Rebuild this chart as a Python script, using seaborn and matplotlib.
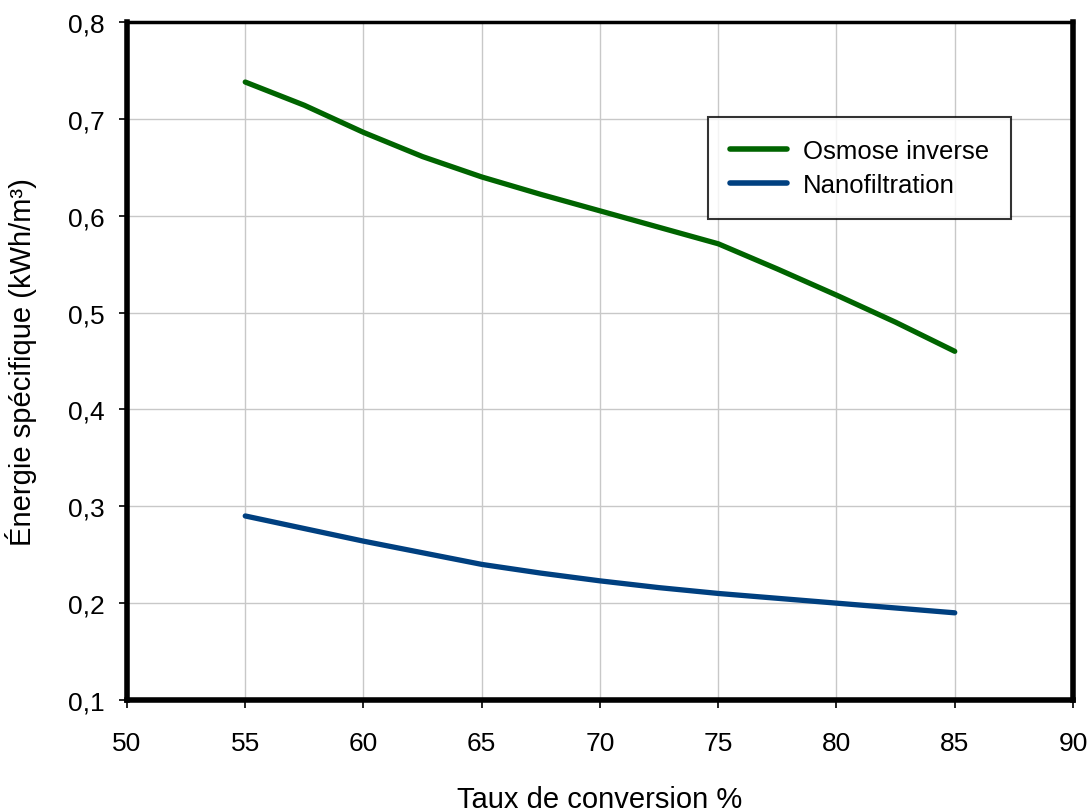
import matplotlib
matplotlib.use("Agg")
import matplotlib.pyplot as plt
import seaborn as sns
import pandas as pd

taux = [55, 57.5, 60, 62.5, 65, 67.5, 70, 72.5, 75, 77.5, 80, 82.5, 85]
osmose = [0.738, 0.714, 0.686, 0.661, 0.640, 0.622, 0.605, 0.588, 0.571,
          0.545, 0.518, 0.490, 0.460]
nano = [0.290, 0.277, 0.264, 0.252, 0.240, 0.231, 0.223, 0.216, 0.210,
        0.205, 0.200, 0.195, 0.190]
series_names = ["Osmose inverse", "Nanofiltration"]
colors = ["#006400", "#004080"]
x_ticks = [50, 55, 60, 65, 70, 75, 80, 85, 90]
y_ticks = [0.1, 0.2, 0.3, 0.4, 0.5, 0.6, 0.7, 0.8]
y_tick_labels = ["0,1", "0,2", "0,3", "0,4", "0,5", "0,6", "0,7", "0,8"]

df = pd.DataFrame({
    "x": taux * 2,
    "y": osmose + nano,
    "serie": [series_names[0]] * len(taux) + [series_names[1]] * len(taux),
})

sns.set_style("white")
plt.rcParams["font.family"] = ["Liberation Sans", "DejaVu Sans"]
for k in ["text.color", "axes.labelcolor", "xtick.color", "ytick.color"]:
    plt.rcParams[k] = "black"

fig = plt.figure(figsize=(10.92, 8.12), dpi=100)
ax = fig.add_axes([0.1163, 0.1367, 0.8663, 0.835])

sns.lineplot(data=df, x="x", y="y", hue="serie", palette=colors,
             hue_order=series_names, linewidth=3.8, ax=ax, legend=True)

fs = 19
ax.set_xlim(50, 90)
ax.set_ylim(0.1, 0.8)
ax.set_xticks(x_ticks)
ax.set_xticklabels([str(v) for v in x_ticks], fontsize=fs)
ax.set_yticks(y_ticks)
ax.set_yticklabels(y_tick_labels, fontsize=fs)
ax.grid(True, color="#c8c8c8", linewidth=1)
ax.set_axisbelow(True)

ax.tick_params(axis="both", direction="out", length=6, width=1.2, color="black",
               bottom=True, left=True, pad=10)
ax.tick_params(axis="x", pad=16)

for side in ["left", "bottom", "right"]:
    ax.spines[side].set_visible(True)
    ax.spines[side].set_color("black")
    ax.spines[side].set_linewidth(4)
ax.spines["top"].set_visible(True)
ax.spines["top"].set_color("black")
ax.spines["top"].set_linewidth(2.5)

ax.set_xlabel("Taux de conversion %", fontsize=21, labelpad=22)
ax.set_ylabel("Énergie spécifique (kWh/m³)", fontsize=21, labelpad=22)

leg = ax.legend(loc="upper left", bbox_to_anchor=(0.614, 0.860), fontsize=18.5,
                frameon=True, fancybox=False, edgecolor="black", borderaxespad=0,
                handlelength=2.25, borderpad=0.85, labelspacing=0.4, handletextpad=0.6)
leg.get_frame().set_linewidth(1.5)
for line in leg.get_lines():
    line.set_linewidth(4)

fig.savefig("out.png", dpi=100, facecolor="white")
